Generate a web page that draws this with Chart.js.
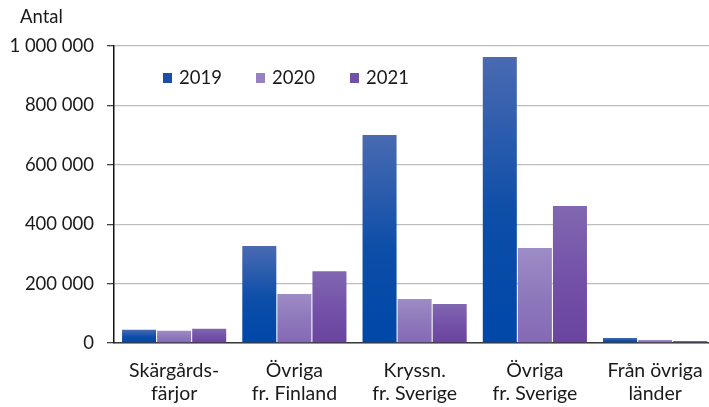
<!DOCTYPE html>
<html lang="sv">
<head>
<meta charset="utf-8">
<script src="https://cdn.jsdelivr.net/npm/chart.js@4/dist/chart.umd.min.js"></script>
<style>
  html, body { margin: 0; padding: 0; background: #fff; overflow: hidden; }
  #wrap { position: relative; width: 720px; height: 407px; }
</style>
</head>
<body>
<div id="wrap"><canvas id="c"></canvas></div>
<script>
// Passagerare per kategori och år
const categories = [
  ['Skärgårds-', 'färjor'],
  ['Övriga', 'fr. Finland'],
  ['Kryssn.', 'fr. Sverige'],
  ['Övriga', 'fr. Sverige'],
  ['Från övriga', 'länder']
];
const years = ['2019', '2020', '2021'];
const values2019 = [45000, 327000, 700000, 963000, 17000];
const values2020 = [41000, 165000, 148000, 320000, 10000];
const values2021 = [48000, 242000, 131000, 461000, 7000];
const yMin = 0, yMax = 1000000, yStep = 200000;
const yTitle = 'Antal';

const FONT = 'Lato, "Liberation Sans", sans-serif';
const TEXT = '#1a1a1a';

// vertical gradient per bar: lighter top, darker base
const palettes = [
  { top: '#4a6ab2', mid: '#0c4ea8', bottom: '#0047a8', key: '#1a4ea8' },
  { top: '#9d8cc5', mid: '#8d77bb', bottom: '#8469b5', key: '#9682c2' },
  { top: '#8167b1', mid: '#7350a8', bottom: '#6a44a0', key: '#7152a9' }
];

function barFill(p) {
  return (ctx) => {
    const chart = ctx.chart;
    const y = chart.scales.y;
    if (!chart.chartArea || !y || ctx.raw === undefined) return p.mid;
    const top = y.getPixelForValue(ctx.raw);
    const base = y.getPixelForValue(0);
    if (!isFinite(top) || !isFinite(base) || base - top < 1) return p.mid;
    const g = chart.ctx.createLinearGradient(0, top, 0, base);
    g.addColorStop(0, p.top);
    g.addColorStop(0.55, p.mid);
    g.addColorStop(1, p.bottom);
    return g;
  };
}

function fmt(v) {
  return String(v).replace(/\B(?=(\d{3})+(?!\d))/g, ' ');
}

const seriesValues = [values2019, values2020, values2021];

// legend drawn inside the plot area, plus the axis title above the y labels
const overlay = {
  id: 'overlay',
  afterDraw(chart) {
    const ctx = chart.ctx;
    ctx.save();
    ctx.font = '18.5px ' + FONT;
    ctx.fillStyle = TEXT;
    ctx.textBaseline = 'middle';
    ctx.textAlign = 'left';
    ctx.fillText(yTitle, 20, 17);
    const xs = [163, 256, 350];
    years.forEach((yr, i) => {
      ctx.fillStyle = palettes[i].key;
      ctx.fillRect(xs[i], 73, 9, 10);
      ctx.fillStyle = TEXT;
      ctx.fillText(yr, xs[i] + 16, 78);
    });
    ctx.restore();
  }
};

new Chart(document.getElementById('c'), {
  type: 'bar',
  data: {
    labels: categories,
    datasets: years.map((yr, i) => ({
      label: yr,
      data: seriesValues[i],
      backgroundColor: barFill(palettes[i]),
      borderWidth: 0,
      barPercentage: 0.97,
      categoryPercentage: 0.875
    }))
  },
  options: {
    responsive: true,
    maintainAspectRatio: false,
    animation: false,
    devicePixelRatio: 1,
    layout: { padding: { top: 46, right: 3, bottom: 0, left: 0 } },
    plugins: {
      legend: { display: false },
      title: { display: false },
      tooltip: { enabled: false }
    },
    scales: {
      x: {
        grid: { display: false, drawTicks: false },
        border: { display: true, color: '#3a3a3a', width: 1.5 },
        ticks: {
          color: TEXT,
          font: { family: FONT, size: 19.5, lineHeight: 1.15 },
          padding: 17,
          maxRotation: 0,
          autoSkip: false
        },
        afterFit(scale) { scale.height = 64; }
      },
      y: {
        min: yMin,
        max: yMax,
        grid: {
          color: '#bdbdbd',
          lineWidth: 1.3,
          tickLength: 7,
          tickColor: '#444',
          tickWidth: 1.3
        },
        border: { display: true, color: '#111', width: 1.5 },
        ticks: {
          stepSize: yStep,
          color: TEXT,
          font: { family: FONT, size: 18.5 },
          padding: 13,
          callback: (v) => fmt(v)
        },
        afterFit(scale) { scale.width = 114; }
      }
    }
  },
  plugins: [overlay]
});
</script>
</body>
</html>
